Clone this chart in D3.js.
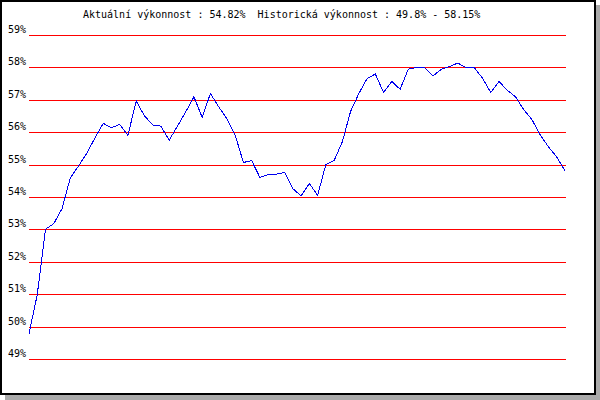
<!DOCTYPE html>
<html>
<head>
<meta charset="utf-8">
<script src="https://cdn.jsdelivr.net/npm/d3@7"></script>
<style>
html,body{margin:0;padding:0;background:#fff;}
svg{display:block;}
text{font-family:"DejaVu Sans Mono",monospace;font-size:10px;fill:#000;white-space:pre;}
</style>
</head>
<body>
<svg id="chart" width="600" height="400"></svg>
<script>
const titleText = "Aktuální výkonnost : 54.82%  Historická výkonnost : 49.8% - 58.15%";
const tickValues = [49, 50, 51, 52, 53, 54, 55, 56, 57, 58, 59];
const tickLabels = ["49%", "50%", "51%", "52%", "53%", "54%", "55%", "56%", "57%", "58%", "59%"];
const values = [49.8, 51.0, 53.02, 53.19, 53.65, 54.6, 54.97, 55.36, 55.84, 56.29,
  56.15, 56.26, 55.92, 56.98, 56.52, 56.24, 56.2, 55.77, 56.2, 56.64,
  57.11, 56.47, 57.21, 56.8, 56.43, 55.93, 55.08, 55.14, 54.62, 54.71,
  54.72, 54.77, 54.27, 54.05, 54.43, 54.07, 55.02, 55.14, 55.72, 56.66,
  57.21, 57.67, 57.81, 57.24, 57.58, 57.34, 57.96, 58.01, 58.01, 57.75,
  57.96, 58.04, 58.15, 58.01, 58.01, 57.68, 57.24, 57.58, 57.31, 57.11,
  56.71, 56.4, 55.93, 55.56, 55.25, 54.82];
const categories = values.map((d, i) => i);

const svg = d3.select("#chart");

// frame with shadow
svg.append("rect").attr("x", 5).attr("y", 5).attr("width", 595).attr("height", 395).attr("fill", "#aaaaaa");
svg.append("rect").attr("x", 0).attr("y", 0).attr("width", 596).attr("height", 395).attr("fill", "#000");
svg.append("rect").attr("x", 2).attr("y", 2).attr("width", 592).attr("height", 391).attr("fill", "#fff");

const x = d3.scaleLinear().domain([0, categories.length - 1]).range([29, 565]);
const y = d3.scaleLinear().domain([49, 59]).range([359.5, 35.5]);

// gridlines
svg.append("g").selectAll("line").data(tickValues).join("line")
  .attr("x1", 29).attr("x2", 566)
  .attr("y1", d => Math.floor(y(d)) + 0.5)
  .attr("y2", d => Math.floor(y(d)) + 0.5)
  .attr("stroke", "#ff0000").attr("stroke-width", 1)
  .attr("shape-rendering", "crispEdges");

// y labels
svg.append("g").selectAll("text").data(tickValues).join("text")
  .attr("x", 8)
  .attr("y", d => Math.floor(y(d)) - 2)
  .text((d, i) => tickLabels[i]);

// title
svg.append("text").attr("x", 83).attr("y", 18)
  .attr("xml:space", "preserve")
  .text(titleText);

// line
const line = d3.line().x((d, i) => x(categories[i])).y(d => y(d));
svg.append("path").datum(values)
  .attr("d", line)
  .attr("fill", "none")
  .attr("stroke", "#0000ee")
  .attr("stroke-width", 1)
  .attr("shape-rendering", "crispEdges");
</script>
</body>
</html>
